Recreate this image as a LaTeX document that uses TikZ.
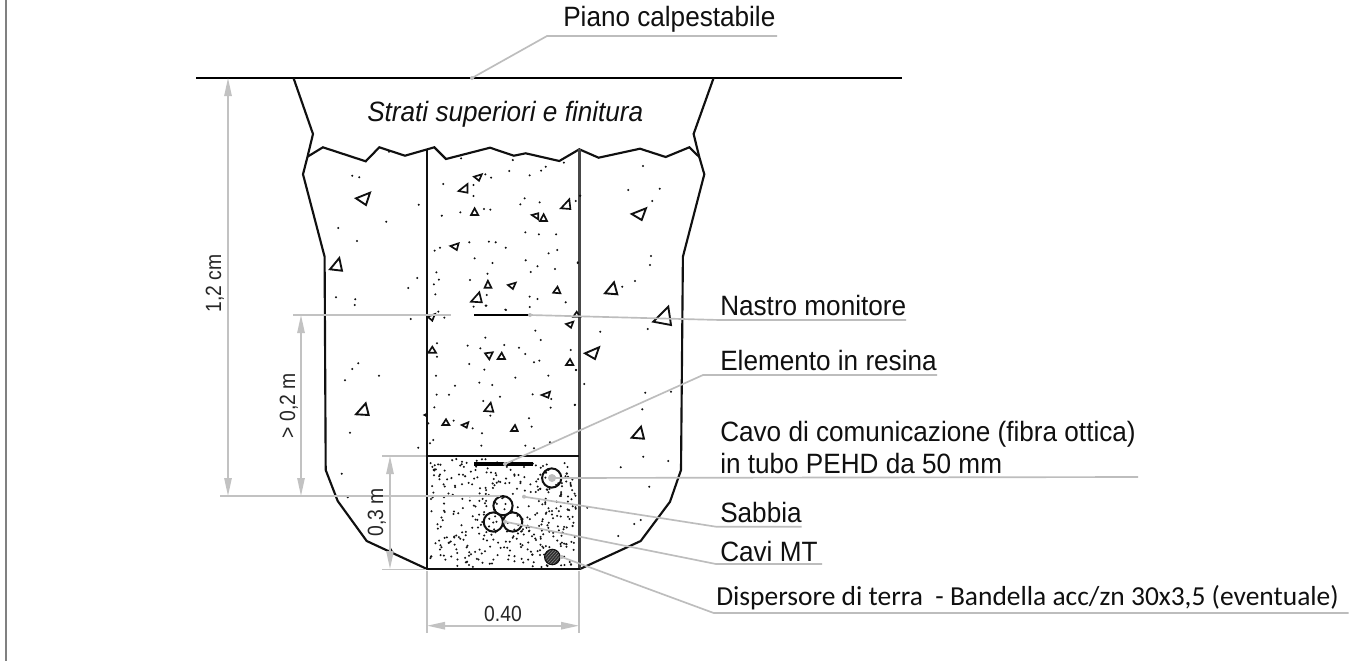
\documentclass[tikz,border=0pt]{standalone}
\usepackage{fontspec}
\usepackage{graphicx}
\setmainfont{Liberation Sans}
\newfontfamily\carlitofont{Carlito}
\usetikzlibrary{arrows.meta}
\definecolor{dimgray}{HTML}{C2C2C2}
\definecolor{leadgray}{HTML}{BDBDBD}
\definecolor{inkblack}{HTML}{101010}
\newcommand{\tallA}[1]{\scalebox{1}[1.07]{#1}}
\newcommand{\tallB}[1]{\scalebox{1}[1.14]{#1}}
\tikzset{
  x=0.75pt,y=-0.75pt,
  wall/.style={draw=inkblack,line width=1.6pt,line join=miter},
  wallsoft/.style={draw=black!72,line width=1.9pt},
  leader/.style={draw=leadgray,line width=1.25pt},
  dimline/.style={draw=dimgray,line width=1.25pt},
  dimarrow/.style={draw=dimgray,line width=1.25pt,{Triangle[length=13.5pt,width=5.5pt,fill=dimgray]}-{Triangle[length=13.5pt,width=5.5pt,fill=dimgray]}},
  labeltxt/.style={anchor=base west,inner sep=0pt,text=inkblack,font=\fontsize{19.6}{22}\selectfont},
  dimtxt/.style={anchor=base,inner sep=0pt,text=black!85,font=\fontsize{14.5}{16}\selectfont},
  stone/.style={draw=inkblack,line width=1.4pt,line join=miter,fill=none},
  stonesm/.style={draw=inkblack,line width=1.25pt,line join=miter,fill=none},
  pipe/.style={draw=inkblack,line width=1.5pt,fill=none},
  leaddot/.style={fill=leadgray,draw=none}
}
\begin{document}
\begin{tikzpicture}
\useasboundingbox (0,0) rectangle (1366,661);
\fill[white] (0,0) rectangle (1366,661);
% page edge
\draw[draw=black!50,line width=1.5pt] (6,0) -- (6,661);
% ground surface
\coordinate (surfL) at (196,78);
\coordinate (surfR) at (902,78);
\draw[draw=black,line width=1.9pt] (surfL) -- (surfR);
% excavation outline
\draw[wall] (293.5,78) -- (313,134) -- (307.5,156.7) -- (303,174.3) -- (324.6,256.7) -- (325.7,470) -- (337.7,501) -- (366.7,541) -- (427,569);
\draw[wall] (713.6,78) -- (693.6,134) -- (699.3,157) -- (704.3,174.3) -- (682.9,256.7) -- (681,470) -- (670,501.7) -- (640.7,541) -- (580,569);
% top broken line
\draw[wall] (307.5,156.7) -- (322.9,147.3) -- (365.7,161.3) -- (379.3,147.3) -- (405,155.7) -- (434.3,147.3) -- (446,159) -- (490,147.7) -- (513.9,155.7) -- (525.7,153.3) -- (559.3,161) -- (579.3,149.3) -- (598.6,157.7) -- (640,148.7) -- (665.7,157) -- (689.3,147.3) -- (699.3,157);
% trench
\draw[wall] (427.3,149) -- (427.3,569);
\draw[wallsoft] (579.3,149.3) -- (579.3,569);
\draw[wall] (427.3,455.7) -- (579.3,455.7);
\draw[draw=inkblack,line width=2pt] (427,569) -- (580,569);
% large stones
\foreach \a/\b/\c/\d/\e/\f in {356/198.3/370/192.7/366/205,330/269.3/339.3/258/342/270.7,631.7/214/646/208.3/641.7/220,605/293.3/614/282.3/617.3/294.3,653.3/321.7/668.3/306.7/671/325,585/353.3/599/347.3/595/359,631.7/437.7/641/426.7/644/438.7,356/414.3/365.7/403.3/368.7/415}
  \draw[stone] (\a,\b) -- (\c,\d) -- (\e,\f) -- cycle;
% small stones
\foreach \a/\b/\c/\d/\e/\f in {458.6/191/467.5/184/467.5/192.7,474/176.7/481.8/174.3/479/180.7,471/215/474.6/208.3/478.2/215,531.8/215/538.2/213.3/538.2/219.3,540/221/543.6/214.3/547/221,561/208.3/569.3/199.3/570.4/209,450.4/246/458.6/243.3/456.8/250,484.6/287.7/487.9/280.7/491.4/287.7,507.9/285/515.7/282.7/512.9/289,553.2/292.7/557.5/286.7/560.4/293.3,471/301.7/479.3/292.3/481.8/302.3,427.7/316.7/435/314/432.3/320.7,566/324/573.3/321.7/571/327.7,573.3/316.7/576.7/311.7/580/316.7,428.3/352.7/432.3/346.7/436/352.7,485/353.3/492.7/352.3/489.3/359.3,497.7/359/501.7/352.7/505/359,566/365/570/359/573.3/365,541.7/395/550/391.7/548.3/397.7,484.3/411/490.7/402.7/493.3/411.7,442.3/425/446/419.3/449.3/425,461.7/425/468.3/422.3/466.7/427.7,511/431/515/425/517.7/431}
  \draw[stonesm] (\a,\b) -- (\c,\d) -- (\e,\f) -- cycle;
\fill[inkblack] (422.7,415) -- (427,412.7) -- (427,417.3) -- cycle;
\fill[inkblack] (387.3,551.7) -- (390.7,547.3) -- (394,553.3) -- cycle;
% aggregate dots outside the trench
\foreach \p/\q in {352.3/175.7,359.3/177.3,418.7/204.7,386.3/221.7,338.3/228,357/241,336/297.3,355.3/299.3,354.7/305,417.3/278,408.3/288,410.7/319,389/151.7,643/166,628.3/190,659.7/188.7,652.3/201,651/256,650/265,635/281,622.3/286.7,647.7/329,600.3/331.7,584.3/384,645.3/392.7,671/391.7,642.3/409.3,643.3/456.7,580.3/195.7,577.7/263,576/370,574.7/405,358.3/363.3,352.3/369,345/380.3,379/375.7,350/432.7,418.3/447.7,341.7/473.7,347.7/497.3,668.3/461,620.7/467.3,649.3/486.7,587.3/507.7,640.7/520,634.3/524,618.3/536}
  \fill[inkblack] (\p,\q) circle[radius=0.85pt];
% aggregate dots in the trench (upper half)
\foreach \p/\q in {787/295,932/300,922/333,979/346,1011/332,1024/320,1075/308,737/372,822/375,822/408,855/343,871/353,965/415,953/433,1007/427,1120/407,1108/423,733/467,785/457,851/447,869/449,967/517,1005/523,1053/523,1032/580,1056/570,968/601,1001/619,982/636,1050/627,713/572,728/563,810/547,865/545,884/547,912/563,825/595,875/609,861/641,718/637,725/659,711/673,812/660,715/703,859/705,858/737,822/740,911/749,979/710,1001/717,979/741,1080/727,1114/607}
  \fill[inkblack] ({\p/2.8+180},{\q/3+60}) circle[radius=0.85pt];
% aggregate dots in the trench (lower half)
\foreach \p/\q in {715/35,733/53,857/17,918/30,1006/92,1022/120,856/113,803/137,841/145,913/135,957/143,976/162,1018/182,1002/187,1112/150,808/192,853/209,1128/210,711/130,711/170,708/227,946/233,1045/227,838/248,877/255,765/257,710/284,747/284,998/283,900/290,1054/297,850/303,703/322,1052/323,1125/314,871/347,987/355,761/362,995/380,818/385,846/400,700/420,690/430,844/437,976/437,1002/445,1050/427,685/370}
  \fill[inkblack] ({\p/3+200},{\q/3+300}) circle[radius=0.85pt];
% sand
\pgfmathsetseed{4711}
\foreach \i in {1,...,390}{
  \pgfmathsetmacro{\sx}{430+146*rnd}
  \pgfmathsetmacro{\sy}{459+108*rnd}
  \fill[black!92] (\sx,\sy) circle[radius=0.85pt];
}
% warning tape and resin element
\coordinate (tapeL) at (474,315);
\coordinate (tapeR) at (530,315);
\draw[draw=black,line width=1.4pt] (tapeL) -- (tapeR);
\coordinate (resL) at (474,464);
\coordinate (resR) at (533,464);
\draw[draw=black,line width=3.5pt] (resL) -- (resR);
% cables
\draw[pipe] (503,505.7) circle[radius=7.2pt];
\draw[pipe] (493.3,522) circle[radius=7.2pt];
\draw[pipe] (512.7,522) circle[radius=7.2pt];
\draw[pipe] (551.7,478) circle[radius=7.2pt];
% earth conductor
\begin{scope}
\clip (552.3,557) circle[radius=5.8pt];
\fill[black!82] (540,545) rectangle (565,570);
\foreach \k in {0,3,...,36}
  \draw[black!45,line width=0.35pt] (530+\k,570) -- (552+\k,545);
\end{scope}
\draw[draw=inkblack,line width=0.8pt] (552.3,557) circle[radius=5.8pt];
% dimensions
\coordinate (dA1) at (228,78);  \coordinate (dA2) at (228,496);
\coordinate (dB1) at (301,315); \coordinate (dB2) at (301,496);
\coordinate (dC1) at (390,456); \coordinate (dC2) at (390,569);
\coordinate (dD1) at (427,625.7); \coordinate (dD2) at (579,625.7);
\draw[dimline] (220,496) -- (500,496);
\draw[dimline] (293,315) -- (451,315);
\draw[dimline] (382,456) -- (426,456);
\draw[dimline] (382,569.5) -- (426,569.5);
\draw[dimline] (427,571) -- (427,633);
\draw[dimline] (579,571) -- (579,633);
\draw[dimarrow] (dA1) -- (dA2);
\draw[dimarrow] (dB1) -- (dB2);
\draw[dimarrow] (dC1) -- (dC2);
\draw[dimarrow] (dD1) -- (dD2);
\node[dimtxt,rotate=90] (t12) at (221,283.5) {\tallB{1,2 cm}};
\node[dimtxt,rotate=90] (t02) at (295,405.5) {\tallB{> 0,2 m}};
\node[dimtxt,rotate=90] (t03) at (383,512.5) {\tallB{0,3 m}};
\node[dimtxt] (t40) at (503,621.7) {\tallB{0.40}};
% labels
\node[labeltxt] (lPiano) at (563,26.7) {\tallA{Piano calpestabile}};
\node[labeltxt,font=\fontsize{19.6}{22}\selectfont\itshape] (lStrati) at (367,121.7) {\tallA{Strati superiori e finitura}};
\node[labeltxt] (lNastro) at (720,315) {\tallA{Nastro monitore}};
\node[labeltxt] (lElem) at (720,370.7) {\tallA{Elemento in resina}};
\node[labeltxt] (lCavo) at (720,441.7) {\tallA{Cavo di comunicazione (fibra ottica)}};
\node[labeltxt] (lTubo) at (720,473) {\tallA{in tubo PEHD da 50 mm}};
\node[labeltxt] (lSabbia) at (720,522) {\tallA{Sabbia}};
\node[labeltxt] (lCavi) at (720,561) {\tallA{Cavi MT}};
\node[labeltxt,font=\fontsize{20.6}{22}\selectfont\carlitofont] (lDisp) at (716,605) {Dispersore di terra\ \ - Bandella acc/zn 30x3,5 (eventuale)};
% leaders
\coordinate (aPiano) at (472,78);
\coordinate (aNastro) at (530,315);
\coordinate (aElem) at (505,464);
\coordinate (aCavo) at (552,478);
\coordinate (aSabbia) at (524,496.7);
\coordinate (aCavi) at (505,521.7);
\coordinate (aDisp) at (561.7,557);
\draw[leader] (aPiano) -- (547,36) -- (777,36);
\draw[leader] (aNastro) -- (720,320) -- (906,320);
\draw[leader] (aElem) -- (703,375) -- (937,375);
\draw[leader] (aCavo) -- (1138,477);
\draw[leader] (aSabbia) -- (716,526.7) -- (801.6,526.7);
\draw[leader] (aCavi) -- (716,564) -- (822,564);
\draw[leader] (aDisp) -- (713.7,613) -- (1348.6,613);
\foreach \n in {aPiano,aNastro,aElem,aSabbia,aCavi,aDisp}
  \fill[leaddot] (\n) circle[radius=1.5pt];
\fill[leaddot] (aCavo) circle[radius=3pt];
\end{tikzpicture}
\end{document}
